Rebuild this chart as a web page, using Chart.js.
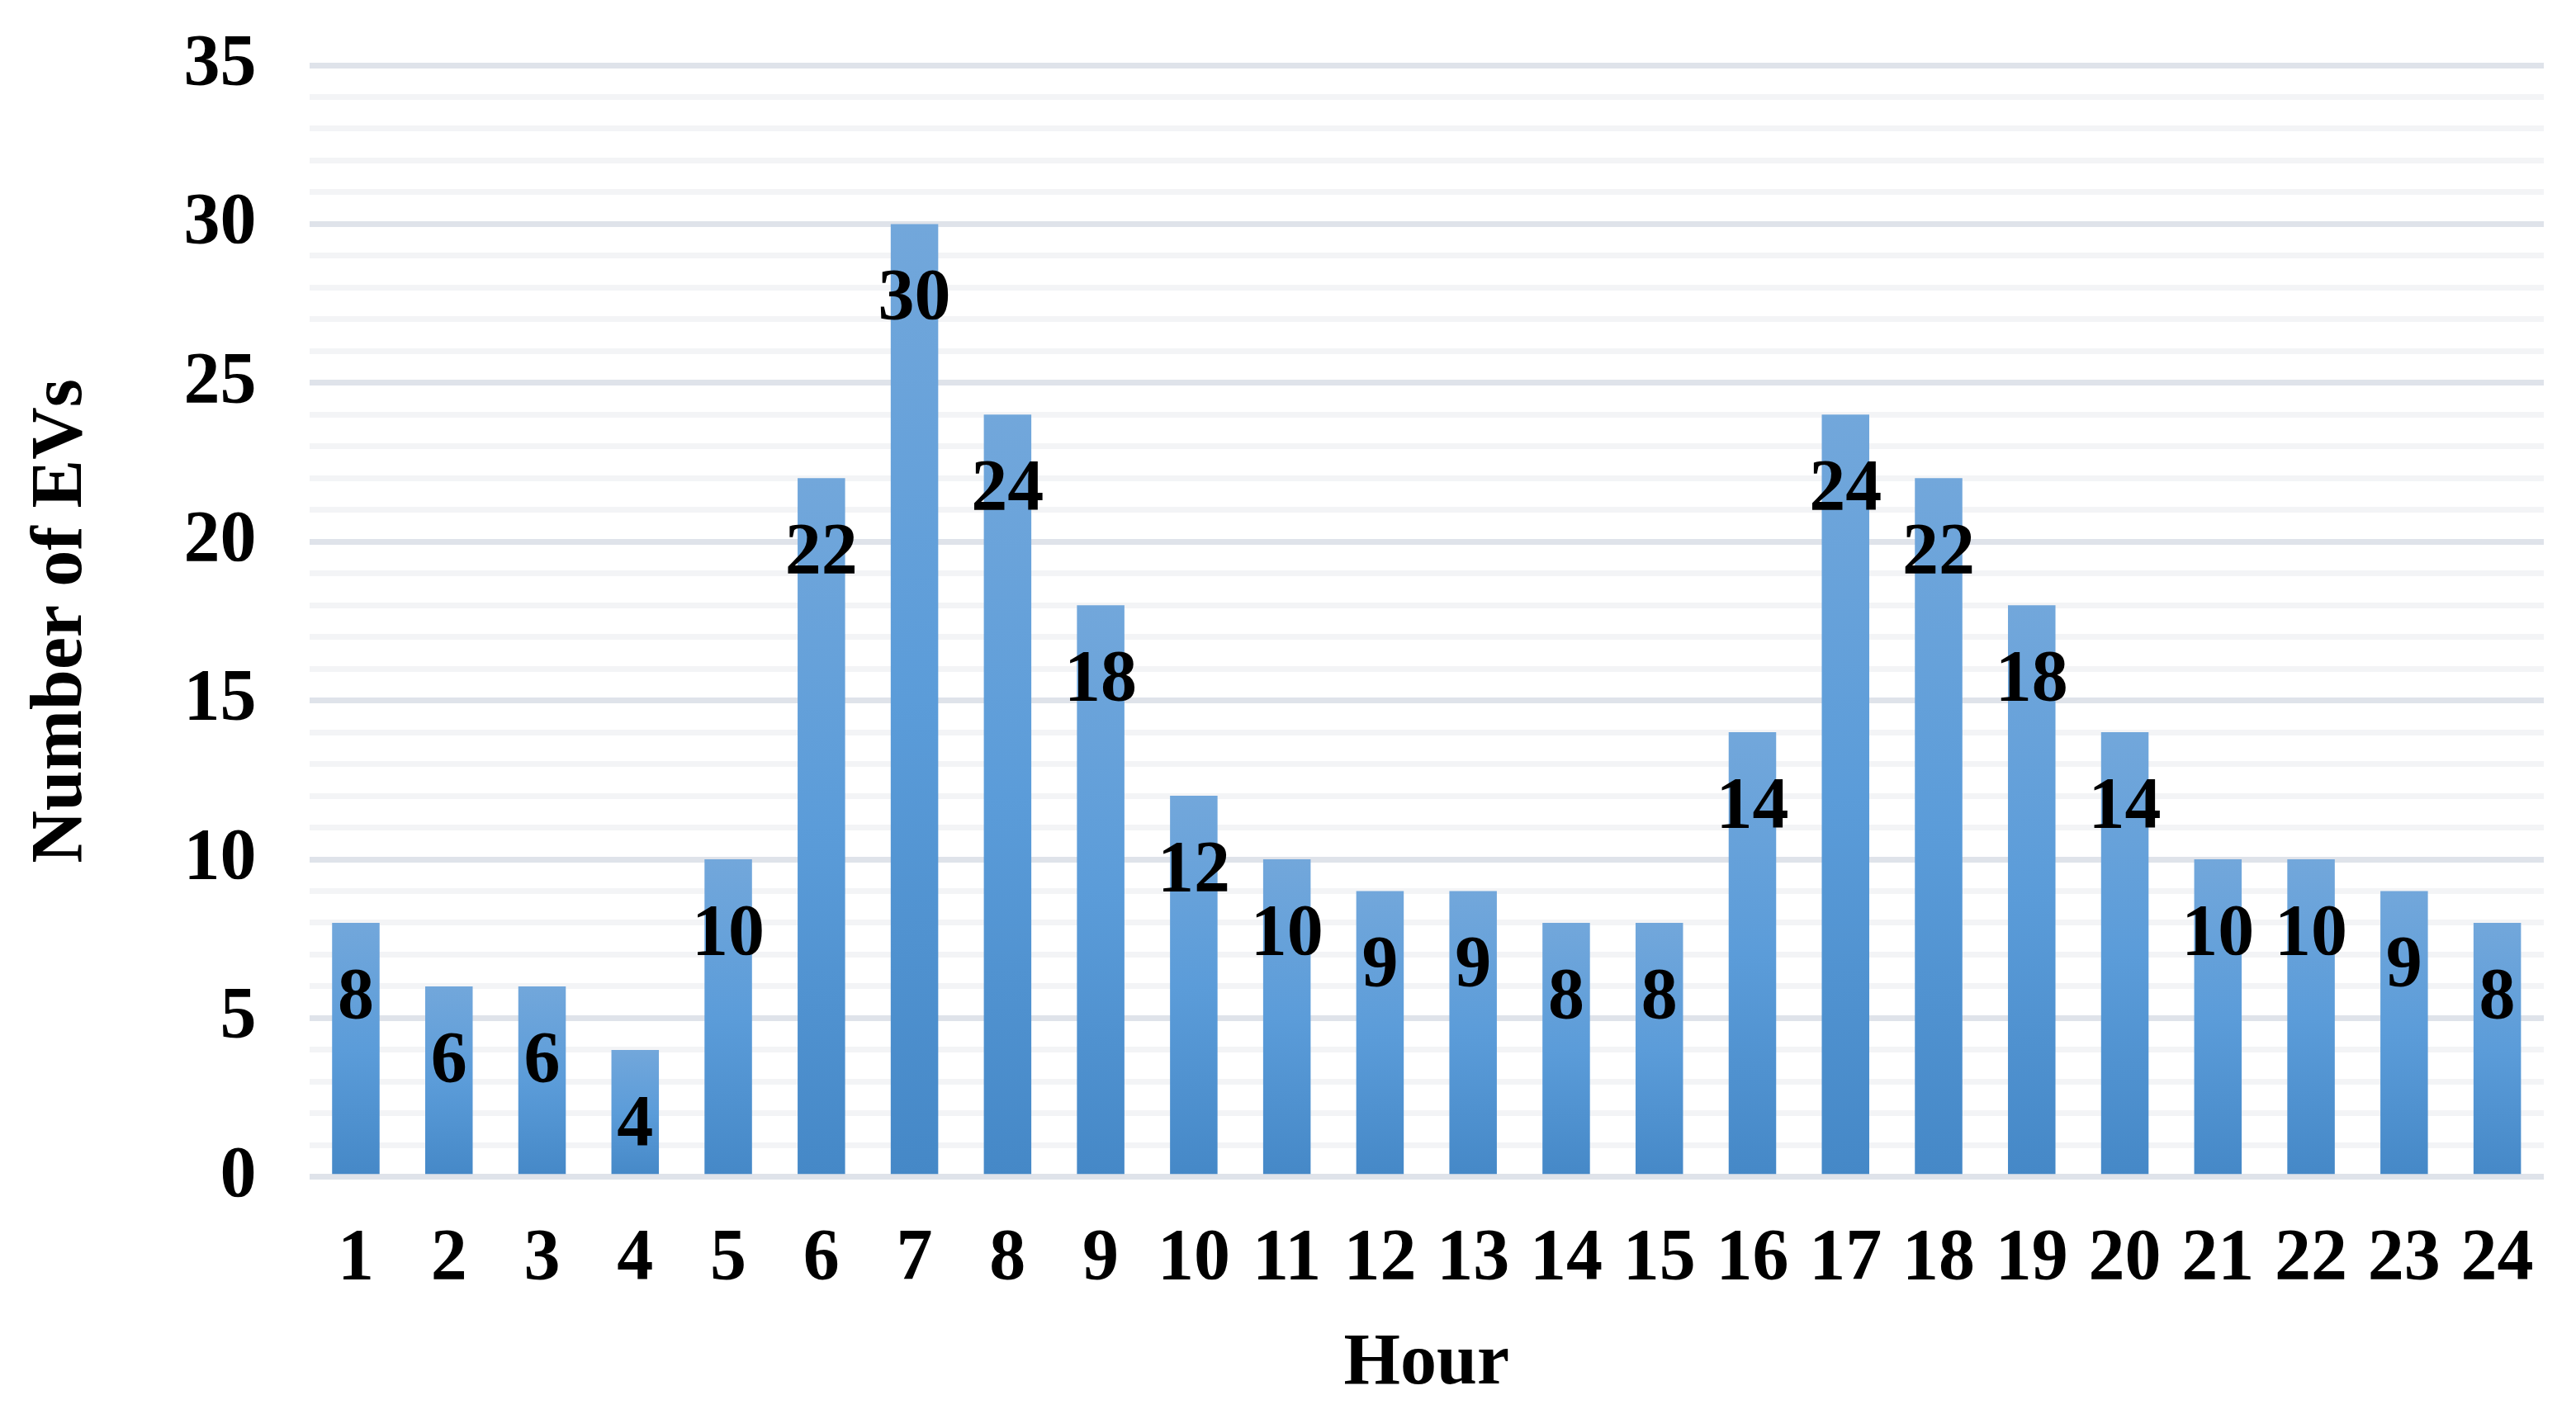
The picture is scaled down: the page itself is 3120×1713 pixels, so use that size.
<!DOCTYPE html>
<html>
<head>
<meta charset="utf-8">
<script src="https://cdn.jsdelivr.net/npm/chart.js"></script>
<style>
  body { margin: 0; background: #fff; }
</style>
</head>
<body>
<canvas id="evChart" width="3120" height="1713"></canvas>
<script>
    const hours = ['1','2','3','4','5','6','7','8','9','10','11','12','13','14','15','16','17','18','19','20','21','22','23','24'];
    const evCounts = [8, 6, 6, 4, 10, 22, 30, 24, 18, 12, 10, 9, 9, 8, 8, 14, 24, 22, 18, 14, 10, 10, 9, 8];
    const yMax = 35;

    const fontFamily = '"Liberation Serif", "Times New Roman", serif';
    const fontSize = 88;

    // per-bar gradient, lighter at the top like the Excel style
    function barFill(context) {
        const chart = context.chart;
        if (!chart.chartArea || !chart.scales.y) return '#5b9bd5';
        const y = chart.scales.y;
        const top = y.getPixelForValue(context.raw);
        const bottom = y.getPixelForValue(0);
        const g = chart.ctx.createLinearGradient(0, top, 0, bottom);
        g.addColorStop(0, '#72a7db');
        g.addColorStop(0.5, '#5b9cd9');
        g.addColorStop(1, '#4588c7');
        return g;
    }

    // value labels drawn inside the top of each bar
    const valueLabels = {
        id: 'valueLabels',
        afterDatasetsDraw(chart) {
            const ctx = chart.ctx;
            const meta = chart.getDatasetMeta(0);
            ctx.save();
            ctx.font = 'bold ' + fontSize + 'px ' + fontFamily;
            ctx.fillStyle = '#000';
            ctx.textAlign = 'center';
            ctx.textBaseline = 'middle';
            meta.data.forEach((bar, i) => {
                ctx.fillText(String(evCounts[i]), bar.x, bar.y + 92);
            });
            ctx.restore();
        }
    };

    const ctx = document.getElementById('evChart').getContext('2d');

    const evChart = new Chart(ctx, {
        type: 'bar',
        data: {
            labels: hours,
            datasets: [{
                data: evCounts,
                backgroundColor: barFill,
                borderWidth: 0,
                barPercentage: 0.51,
                categoryPercentage: 1.0
            }]
        },
        options: {
            responsive: false,
            animation: false,
            layout: { padding: { top: 79, right: 39, left: 22, bottom: 7 } },
            plugins: {
                legend: { display: false },
                tooltip: { enabled: false }
            },
            scales: {
                x: {
                    // invisible tick marks give the gap under the axis
                    grid: { display: true, drawOnChartArea: false, drawTicks: true, tickLength: 48, tickColor: 'transparent' },
                    border: { display: false },
                    ticks: {
                        color: '#000',
                        font: { family: fontFamily, size: fontSize, weight: 'bold' },
                        padding: 0,
                        maxRotation: 0,
                        autoSkip: false
                    },
                    title: {
                        display: true,
                        text: 'Hour',
                        color: '#000',
                        font: { family: fontFamily, size: fontSize, weight: 'bold' },
                        padding: { top: 21, bottom: 0 }
                    }
                },
                y: {
                    min: 0,
                    max: yMax,
                    border: { display: false },
                    grid: {
                        drawTicks: true,
                        tickLength: 64,
                        tickColor: 'transparent',
                        lineWidth: 7,
                        color: (c) => (c.tick && c.tick.value % 5 === 0) ? '#dfe3ea' : '#f3f4f6'
                    },
                    ticks: {
                        stepSize: 1,
                        autoSkip: false,
                        color: '#000',
                        padding: 0,
                        font: { family: fontFamily, size: fontSize, weight: 'bold' },
                        callback: (v) => (v % 5 === 0 ? v : '')
                    },
                    title: {
                        display: true,
                        text: 'Number of EVs',
                        color: '#000',
                        font: { family: fontFamily, size: fontSize, weight: 'bold' },
                        padding: { top: 0, bottom: 95 }
                    }
                }
            }
        },
        plugins: [valueLabels]
    });
</script>
</body>
</html>
